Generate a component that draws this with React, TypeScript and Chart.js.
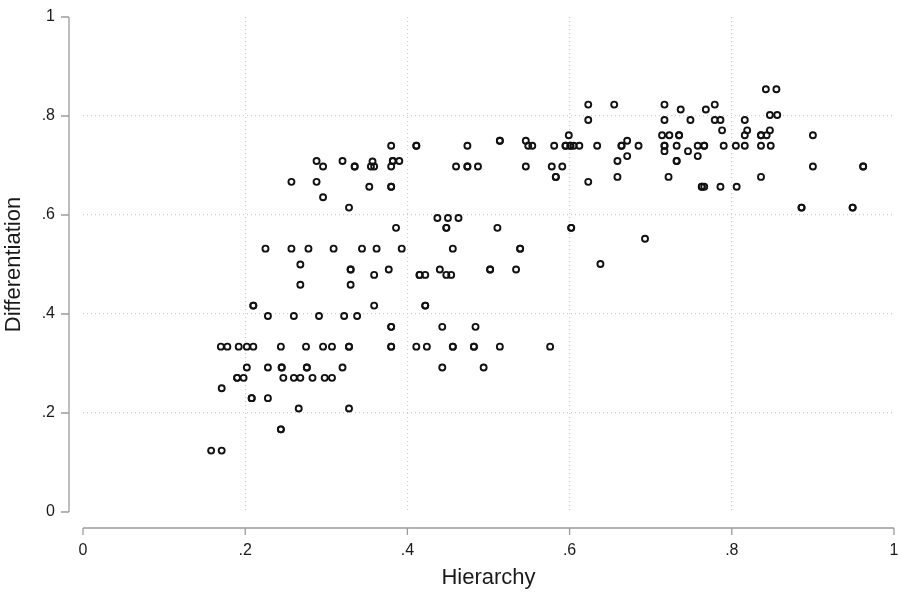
import React, { useEffect, useRef } from "react";
import { Chart, registerables } from "chart.js";

Chart.register(...registerables);

// Observations (Hierarchy, Differentiation); repeated pairs are overlapping observations
const hierarchy: number[] = [
  0.288, 0.296, 0.320, 0.257, 0.288, 0.296, 0.225, 0.257, 0.278, 0.309,
  0.268, 0.268, 0.210, 0.210, 0.228, 0.260, 0.291, 0.322, 0.170, 0.178,
  0.192, 0.202, 0.210, 0.244, 0.275, 0.296, 0.307, 0.202, 0.228, 0.245,
  0.245, 0.276, 0.276, 0.320, 0.190, 0.190, 0.198, 0.247, 0.260, 0.268,
  0.283, 0.298, 0.307, 0.171, 0.208, 0.208, 0.228, 0.266, 0.244, 0.244,
  0.158, 0.171, 0.380, 0.411, 0.411, 0.474, 0.514, 0.514, 0.546, 0.549,
  0.335, 0.335, 0.357, 0.355, 0.359, 0.380, 0.382, 0.382, 0.390, 0.460,
  0.474, 0.474, 0.487, 0.546, 0.353, 0.380, 0.380, 0.328, 0.437, 0.450,
  0.463, 0.386, 0.448, 0.448, 0.511, 0.344, 0.362, 0.393, 0.456, 0.539,
  0.539, 0.330, 0.330, 0.359, 0.377, 0.415, 0.415, 0.422, 0.440, 0.448,
  0.454, 0.502, 0.502, 0.534, 0.330, 0.359, 0.422, 0.422, 0.338, 0.380,
  0.380, 0.443, 0.484, 0.328, 0.328, 0.380, 0.380, 0.411, 0.424, 0.456,
  0.456, 0.482, 0.482, 0.514, 0.443, 0.494, 0.328, 0.576, 0.623, 0.655,
  0.717, 0.779, 0.623, 0.717, 0.737, 0.749, 0.768, 0.779, 0.788, 0.599,
  0.714, 0.723, 0.735, 0.735, 0.554, 0.581, 0.595, 0.595, 0.601, 0.601,
  0.605, 0.612, 0.634, 0.664, 0.664, 0.671, 0.685, 0.717, 0.717, 0.732,
  0.758, 0.766, 0.766, 0.717, 0.746, 0.758, 0.671, 0.659, 0.732, 0.732,
  0.578, 0.591, 0.583, 0.583, 0.659, 0.722, 0.623, 0.763, 0.763, 0.766,
  0.786, 0.602, 0.602, 0.693, 0.638, 0.842, 0.855, 0.786, 0.816, 0.847,
  0.856, 0.819, 0.847, 0.816, 0.836, 0.836, 0.843, 0.900, 0.790, 0.805,
  0.816, 0.836, 0.848, 0.900, 0.962, 0.962, 0.836, 0.806, 0.886, 0.886,
  0.949, 0.949,
];

const differentiation: number[] = [
  0.709, 0.698, 0.709, 0.667, 0.667, 0.636, 0.532, 0.532, 0.532, 0.532,
  0.500, 0.459, 0.417, 0.417, 0.396, 0.396, 0.396, 0.396, 0.334, 0.334,
  0.334, 0.334, 0.334, 0.334, 0.334, 0.334, 0.334, 0.292, 0.292, 0.292,
  0.292, 0.292, 0.292, 0.292, 0.271, 0.271, 0.271, 0.271, 0.271, 0.271,
  0.271, 0.271, 0.271, 0.250, 0.230, 0.230, 0.230, 0.209, 0.167, 0.167,
  0.124, 0.124, 0.740, 0.740, 0.740, 0.740, 0.750, 0.750, 0.750, 0.740,
  0.698, 0.698, 0.708, 0.698, 0.698, 0.698, 0.709, 0.709, 0.709, 0.698,
  0.698, 0.698, 0.698, 0.698, 0.657, 0.657, 0.657, 0.615, 0.594, 0.594,
  0.594, 0.574, 0.574, 0.574, 0.574, 0.532, 0.532, 0.532, 0.532, 0.532,
  0.532, 0.490, 0.490, 0.479, 0.490, 0.479, 0.479, 0.479, 0.490, 0.479,
  0.479, 0.490, 0.490, 0.490, 0.459, 0.417, 0.417, 0.417, 0.396, 0.374,
  0.374, 0.374, 0.374, 0.334, 0.334, 0.334, 0.334, 0.334, 0.334, 0.334,
  0.334, 0.334, 0.334, 0.334, 0.292, 0.292, 0.209, 0.334, 0.823, 0.823,
  0.823, 0.823, 0.792, 0.792, 0.813, 0.792, 0.813, 0.792, 0.771, 0.761,
  0.761, 0.761, 0.761, 0.761, 0.740, 0.740, 0.740, 0.740, 0.740, 0.740,
  0.740, 0.740, 0.740, 0.740, 0.740, 0.750, 0.740, 0.740, 0.740, 0.740,
  0.740, 0.740, 0.740, 0.729, 0.729, 0.719, 0.719, 0.709, 0.709, 0.709,
  0.698, 0.698, 0.677, 0.677, 0.677, 0.677, 0.667, 0.657, 0.657, 0.657,
  0.657, 0.574, 0.574, 0.552, 0.501, 0.854, 0.854, 0.792, 0.792, 0.802,
  0.802, 0.771, 0.771, 0.761, 0.761, 0.761, 0.761, 0.761, 0.740, 0.740,
  0.740, 0.740, 0.740, 0.698, 0.698, 0.698, 0.677, 0.657, 0.615, 0.615,
  0.615, 0.615,
];

const tickValues: number[] = [0, 0.2, 0.4, 0.6, 0.8, 1];
const tickLabels: string[] = ["0", ".2", ".4", ".6", ".8", "1"];

const FONT = '"Liberation Sans", Arial, Helvetica, sans-serif';
const TEXT = "#1a1a1a";
const AXIS = "#9c9c9c";
const GRID = "#cccccc";

const fmt = (v: number) => {
  const i = tickValues.findIndex((t) => Math.abs(t - v) < 1e-6);
  return i >= 0 ? tickLabels[i] : "";
};

const offsetAxes = {
  id: "offsetAxes",
  afterDraw(chart: any) {
    const { ctx, chartArea, scales } = chart;
    const x = scales.x;
    const y = scales.y;
    const yAxisX = chartArea.left - 14;
    const xAxisY = chartArea.bottom + 16;
    ctx.save();
    ctx.strokeStyle = AXIS;
    ctx.lineWidth = 1.3;
    ctx.beginPath();
    ctx.moveTo(yAxisX, y.getPixelForValue(1));
    ctx.lineTo(yAxisX, y.getPixelForValue(0));
    y.ticks.forEach((t: any) => {
      const p = y.getPixelForValue(t.value);
      ctx.moveTo(yAxisX - 8, p);
      ctx.lineTo(yAxisX, p);
    });
    ctx.moveTo(x.getPixelForValue(0), xAxisY);
    ctx.lineTo(x.getPixelForValue(1), xAxisY);
    x.ticks.forEach((t: any) => {
      const p = x.getPixelForValue(t.value);
      ctx.moveTo(p, xAxisY);
      ctx.lineTo(p, xAxisY + 7);
    });
    ctx.stroke();
    ctx.restore();
  },
};

const setTicks = (scale: any) => {
  scale.ticks = tickValues.map((v) => ({ value: v }));
};

const clearPadding = (s: any) => {
  s.paddingTop = 0;
  s.paddingBottom = 0;
  s.paddingLeft = 0;
  s.paddingRight = 0;
};

const gridColor = (c: any) => {
  const v = c.tick ? c.tick.value : 0;
  return v > 0.001 && v < 0.999 ? GRID : "rgba(0,0,0,0)";
};

export default function App() {
  const ref = useRef<HTMLCanvasElement | null>(null);

  useEffect(() => {
    if (!ref.current) return;
    const points = hierarchy.map((h, i) => ({ x: h, y: differentiation[i] }));
    const chart = new Chart(ref.current, {
      type: "scatter",
      data: {
        datasets: [
          {
            data: points,
            pointStyle: "circle",
            pointRadius: 3,
            pointBorderWidth: 1.9,
            borderColor: "#111111",
            backgroundColor: "rgba(0,0,0,0)",
            pointBackgroundColor: "rgba(0,0,0,0)",
            pointBorderColor: "#111111",
            pointHoverRadius: 3,
          },
        ],
      },
      options: {
        animation: false,
        responsive: false,
        devicePixelRatio: 1,
        events: [],
        layout: { padding: { top: 17, right: 9, left: 0, bottom: 0 } },
        plugins: {
          legend: { display: false },
          tooltip: { enabled: false },
          title: { display: false },
        },
        scales: {
          x: {
            type: "linear",
            min: 0,
            max: 1,
            afterBuildTicks: setTicks,
            afterFit: (s: any) => {
              s.height = 81;
              clearPadding(s);
            },
            border: { display: false, dash: [1, 3] },
            grid: { drawTicks: false, color: gridColor, lineWidth: 1.2 },
            ticks: {
              padding: 29,
              maxRotation: 0,
              autoSkip: false,
              color: TEXT,
              font: { family: FONT, size: 16 },
              callback: (v: any) => fmt(Number(v)),
            },
            title: {
              display: true,
              text: "Hierarchy",
              color: TEXT,
              font: { family: FONT, size: 22 },
              padding: { top: 0, bottom: 2 },
            },
          },
          y: {
            type: "linear",
            min: 0,
            max: 1,
            afterBuildTicks: setTicks,
            afterFit: (s: any) => {
              s.width = 83;
              clearPadding(s);
            },
            border: { display: false, dash: [1, 3] },
            grid: { drawTicks: false, color: gridColor, lineWidth: 1.2 },
            ticks: {
              padding: 28,
              autoSkip: false,
              color: TEXT,
              font: { family: FONT, size: 16 },
              callback: (v: any) => fmt(Number(v)),
            },
            title: {
              display: true,
              text: "Differentiation",
              color: TEXT,
              font: { family: FONT, size: 22 },
              padding: { top: 1, bottom: 0 },
            },
          },
        },
      },
      plugins: [offsetAxes],
    });
    return () => chart.destroy();
  }, []);

  return (
    <div style={{ position: "absolute", left: 0, top: 0, width: 903, height: 593, background: "#fff" }}>
      <canvas ref={ref} width={903} height={593} style={{ display: "block", width: 903, height: 593 }} />
    </div>
  );
}
